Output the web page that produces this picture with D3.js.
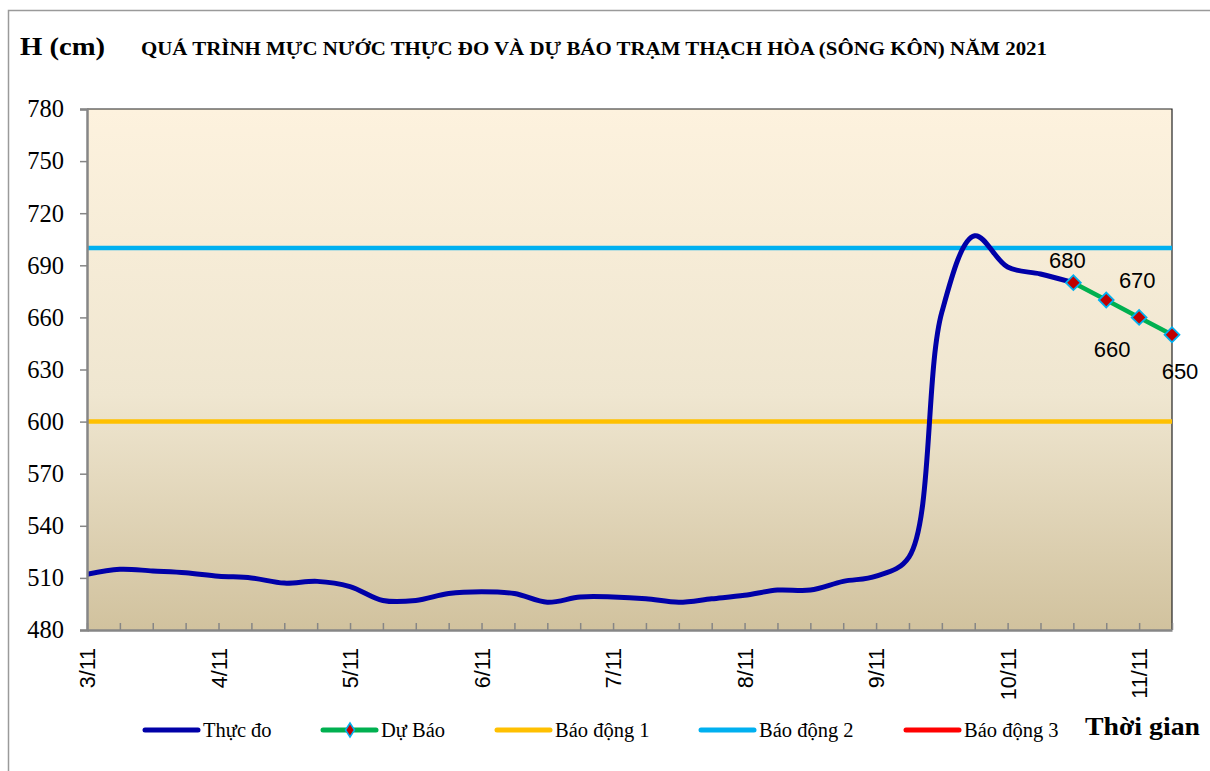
<!DOCTYPE html>
<html><head><meta charset="utf-8">
<script src="https://cdn.jsdelivr.net/npm/d3@7"></script>
<style>body{margin:0;background:#fff}svg{display:block}</style>
</head><body><svg id="c" width="1210" height="771"></svg>
<script>
// ---- data ----
const dates = ["3/11","4/11","5/11","6/11","7/11","8/11","9/11","10/11","11/11"];
const hours = ["1h","7h","13h","19h"];
const observed = [512,515,514,513,511,510,507,508,505,497,497,501,502,501,496,499,499,498,496,498,500,503,503,508,511,522,663,707,689,685,680];
const forecast = [680,670,660,650];
const forecastStart = 30;
const alarmNames = ["Báo động 1","Báo động 2","Báo động 3"];
const alarmLevels = [600,700,800];
const yTicks = [480,510,540,570,600,630,660,690,720,750,780];
const seriesNames = ["Thực đo","Dự Báo"];
const title = "QUÁ TRÌNH MỰC NƯỚC THỰC ĐO VÀ DỰ BÁO TRẠM THẠCH HÒA (SÔNG KÔN) NĂM  2021";
const yTitle = "H (cm)";
const xTitle = "Thời gian";

// categories: 6-hourly steps, last date only first two
const categories = [];
dates.forEach((d,di)=>hours.forEach((h,hi)=>{ if(di<dates.length-1 || hi<2) categories.push(d+" "+h); }));

// ---- layout / style ----
const L=87,R=1172,T=109,B=630;
const cObs="#0000A8",cFc="#00B050",cMk="#C00000",cMkS="#00B0F0";
const alarmColors=["#FFC000","#00B0F0","#FF0000"];
const svg=d3.select("#c");

svg.append("rect").attr("x",8.5).attr("y",10.5).attr("width",1220).attr("height",800)
  .attr("fill","#fff").attr("stroke","#9a9a9a").attr("stroke-width",1.5);

const defs=svg.append("defs");
const g=defs.append("linearGradient").attr("id","bg").attr("x1",0).attr("y1",0).attr("x2",0).attr("y2",1);
g.append("stop").attr("offset","0%").attr("stop-color","#FDF2DE");
g.append("stop").attr("offset","55%").attr("stop-color","#EFE6D0");
g.append("stop").attr("offset","100%").attr("stop-color","#D1C29E");
defs.append("clipPath").attr("id","clip").append("rect").attr("x",L).attr("y",T-3).attr("width",R-L+3).attr("height",B-T+3);

const x=d3.scalePoint().domain(categories).range([L,R]);
const y=d3.scaleLinear().domain([480,780]).range([B,T]);

svg.append("rect").attr("x",L).attr("y",T).attr("width",R-L).attr("height",B-T).attr("fill","url(#bg)");
svg.append("path").attr("d",`M${L},${T}H${R}V${B}`).attr("fill","none").attr("stroke","#222").attr("stroke-width",1.2);

// alarm lines
const plot=svg.append("g").attr("clip-path","url(#clip)");
alarmLevels.forEach((v,i)=>{
  plot.append("line").attr("x1",L).attr("x2",R).attr("y1",y(v)).attr("y2",y(v))
    .attr("stroke",alarmColors[i]).attr("stroke-width",4.5);
});

// axes
const ax=svg.append("g").attr("transform",`translate(${L},0)`)
  .call(d3.axisLeft(y).tickValues(yTicks).tickSize(7).tickPadding(16).tickFormat(d3.format("d")));
ax.select(".domain").attr("stroke","#868686").attr("stroke-width",2.5);
ax.selectAll(".tick line").attr("stroke","#868686").attr("stroke-width",1.5);
ax.selectAll(".tick text").attr("font-family","Liberation Serif").attr("font-size",24.5).attr("fill","#000");

const bx=svg.append("g").attr("transform",`translate(0,${B})`)
  .call(d3.axisBottom(x).tickSizeInner(-7).tickSizeOuter(0)
    .tickFormat(c=>c.endsWith(" "+hours[0])?c.split(" ")[0]:""));
bx.select(".domain").attr("stroke","#868686").attr("stroke-width",2.5);
bx.selectAll(".tick line").attr("stroke","#868686").attr("stroke-width",1.5);
bx.selectAll(".tick text").attr("font-family","Liberation Sans").attr("font-size",21.5).attr("fill","#000")
  .attr("transform","rotate(-90)").attr("text-anchor","end").attr("x",-18).attr("y",0).attr("dy","0.36em");

// observed line
const line=d3.line().x(d=>x(categories[d.i])).y(d=>y(d.v)).curve(d3.curveCatmullRom.alpha(0.5));
const obsPts=observed.map((v,i)=>({i,v}));
plot.append("path").datum(obsPts).attr("d",line).attr("fill","none").attr("stroke",cObs).attr("stroke-width",5).attr("stroke-linejoin","round");

// forecast
const fcPts=forecast.map((v,k)=>({i:forecastStart+k,v}));
const fl=d3.line().x(d=>x(categories[d.i])).y(d=>y(d.v));
svg.append("path").datum(fcPts).attr("d",fl).attr("fill","none").attr("stroke",cFc).attr("stroke-width",4.5);
svg.selectAll(".mk").data(fcPts).join("path").attr("class","mk")
  .attr("d",d3.symbol().type(d3.symbolSquare).size(110)).attr("transform",d=>`translate(${x(categories[d.i])},${y(d.v)}) rotate(45)`)
  .attr("fill",cMk).attr("stroke",cMkS).attr("stroke-width",1.8);
const lblOff=[[-6,-15],[31,-12],[-27,40],[8,44]];
svg.selectAll(".lb").data(fcPts).join("text").attr("class","lb")
  .attr("x",(d,k)=>x(categories[d.i])+lblOff[k][0]).attr("y",(d,k)=>y(d.v)+lblOff[k][1])
  .attr("text-anchor","middle").attr("font-family","Liberation Sans").attr("font-size",22).attr("fill","#000")
  .text(d=>d.v);

// titles
svg.append("text").attr("x",20).attr("y",55).attr("font-family","Liberation Serif").attr("font-weight","bold").attr("font-size",25)
  .attr("textLength",85).attr("lengthAdjust","spacingAndGlyphs").text(yTitle);
svg.append("text").attr("x",141).attr("y",55).attr("font-family","Liberation Serif").attr("font-weight","bold").attr("font-size",18.5)
  .attr("textLength",906).attr("lengthAdjust","spacingAndGlyphs").text(title);
svg.append("text").attr("x",1085).attr("y",735).attr("font-family","Liberation Serif").attr("font-weight","bold").attr("font-size",26)
  .attr("textLength",115).attr("lengthAdjust","spacingAndGlyphs").text(xTitle);

// legend
const legItems=[
  {name:seriesNames[0],color:cObs,x:145,marker:false},
  {name:seriesNames[1],color:cFc,x:323,marker:true},
  {name:alarmNames[0],color:alarmColors[0],x:497,marker:false},
  {name:alarmNames[1],color:alarmColors[1],x:701,marker:false},
  {name:alarmNames[2],color:alarmColors[2],x:906,marker:false}];
const ly=730;
legItems.forEach(it=>{
  svg.append("line").attr("x1",it.x).attr("x2",it.x+53).attr("y1",ly).attr("y2",ly).attr("stroke",it.color).attr("stroke-width",5).attr("stroke-linecap","round");
  if(it.marker){
    svg.append("path").attr("d",`M0,-7L4.5,0L0,7L-4.5,0Z`).attr("transform",`translate(${it.x+27},${ly})`)
      .attr("fill",cMk).attr("stroke",cMkS).attr("stroke-width",1.5);
  }
  svg.append("text").attr("x",it.x+58).attr("y",ly+7).attr("font-family","Liberation Serif").attr("font-size",20.5).text(it.name);
});
</script></body></html>
